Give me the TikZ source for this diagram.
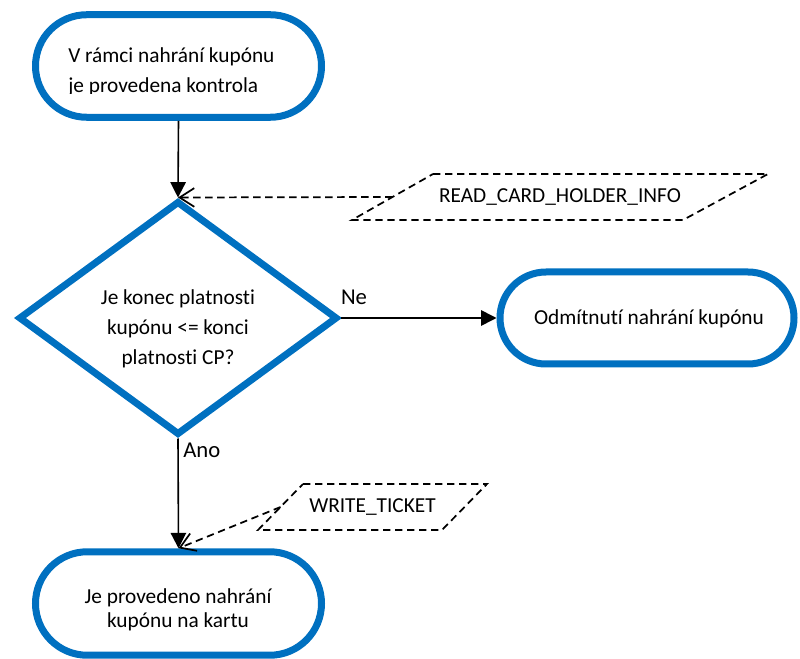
\documentclass[tikz,border=0pt]{standalone}
\usepackage{fontspec}
\setmainfont{Carlito}[Ligatures={NoCommon}]
\usetikzlibrary{shapes.geometric,arrows.meta}
\definecolor{msblue}{RGB}{0,112,192}
\begin{document}
\begin{tikzpicture}[x=0.75pt,y=-0.75pt,
 term/.style={draw=msblue, fill=white, line width=5.25pt, rectangle, inner sep=0pt, align=center, font=\fontsize{16}{18}\selectfont},
 dec/.style={draw=msblue, fill=white, line width=5.25pt, diamond, inner sep=0pt, minimum width=239.25pt, minimum height=175.5pt},
 txt/.style={inner sep=0pt, font=\fontsize{16}{22.5}\selectfont},
 lbl/.style={inner sep=0pt, font=\fontsize{17}{20}\selectfont},
 flow/.style={line width=1.2pt, -{Triangle[length=11.5pt,width=11.5pt]}},
 dflow/.style={line width=1.3pt, dash pattern=on 5.5pt off 3.5pt, -{Straight Barb[length=11pt,width=14pt,line width=1.3pt]}},
 io/.style={line width=1.3pt, dash pattern=on 5.5pt off 3.5pt}
]
\useasboundingbox (0,0) rectangle (800,659);

% terminals
\node[term, minimum width=214.5pt, minimum height=76.9pt, rounded corners=38.4pt] (t1) at (178.5,66) {};
\begin{scope}
\clip (0,0) rectangle (800,94);
\node[txt, align=left, anchor=base west] (t1txt) at (68,93) {V rámci nahrání kupónu\\je provedena kontrola};
\end{scope}

\node[term, minimum width=220.5pt, minimum height=69pt, rounded corners=34.5pt] (t2) at (647,318) {};
\node[txt, anchor=base] (t2txt) at (649,325) {Odmítnutí nahrání kupónu};

\node[term, minimum width=214.5pt, minimum height=77.6pt, rounded corners=38.8pt] (t3) at (178.5,603.5) {};
\node[term, draw=none, fill=none, anchor=base] (t3txt) at (178,627) {Je provedeno nahrání\\kupónu na kartu};

% decision
\node[dec] (d) at (178,318) {};
\node[txt, align=center, anchor=base] (dq) at (178,364) {Je konec platnosti\\kupónu <= konci\\platnosti CP?};

% data parallelograms
\node[txt] (rd) at (560,197) {READ\_CARD\_HOLDER\_INFO};
\draw[io] (433,174) -- (768,174) -- (683,220) -- (352,220) -- cycle;
\coordinate (rdL) at (392.5,197);

\node[txt] (wt) at (372.5,507) {WRITE\_TICKET};
\draw[io] (303,484) -- (487,484) -- (442,530) -- (258,530) -- cycle;
\coordinate (wtL) at (280.5,507);

% connectors
\draw[flow] (t1.south) -- (d.north);
\draw[dflow] (rdL) -- (d.north);
\draw[flow] (d.east) -- (t2.west);
\draw[flow] (d.south) -- (t3.north);
\draw[dflow] (wtL) -- (t3.north);

% labels
\node[lbl] (ne) at (354,297) {Ne};
\node[lbl, anchor=west] (ano) at (183,450) {Ano};
\end{tikzpicture}
\end{document}
